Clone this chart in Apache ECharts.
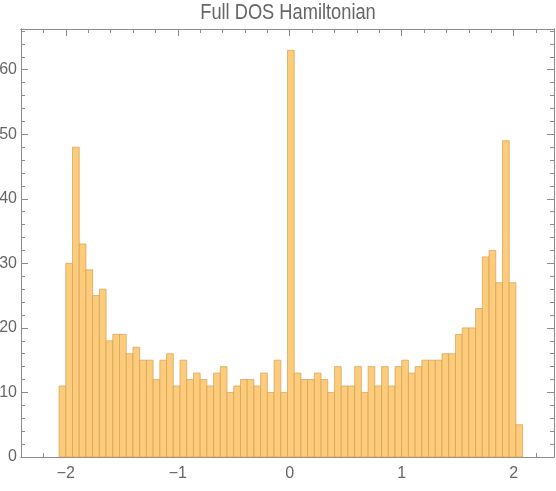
<!DOCTYPE html>
<html>
<head>
<meta charset="utf-8">
<script src="https://cdn.jsdelivr.net/npm/echarts@6/dist/echarts.min.js"></script>
<style>
html,body{margin:0;padding:0;background:#fff;}
#chart{width:556px;height:491px;}
</style>
</head>
<body>
<div id="chart"></div>
<script>
// Histogram bins: first bin left edge and bin width
const binStart = -2.06;
const binWidth = 0.06;
// Counts per bin (69 bins)
const counts = [
  11,30,48,33,29,25,26,18,19,19,16,17,15,15,12,15,16,
  11,
  15,12,13,12,11,13,14,10,11,12,12,11,13,10,15,10,
  63,
  13,12,12,13,12,10,14,11,11,14,10,14,11,14,11,14,15,13,
  14,15,15,15,16,16,19,20,20,23,31,32,27,49,27,5
];
const titleText = 'Full DOS Hamiltonian';
const xMajorTicks = [-2, -1, 0, 1, 2];
const xMinorTicks = [-2.2,-1.8,-1.6,-1.4,-1.2,-0.8,-0.6,-0.4,-0.2,0.2,0.4,0.6,0.8,1.2,1.4,1.6,1.8,2.2];
const yMajorTicks = [0, 10, 20, 30, 40, 50, 60];
const yMinorTicks = [2,4,6,8,12,14,16,18,22,24,26,28,32,34,36,38,42,44,46,48,52,54,56,58,62,64,66];

const FONT = '"Liberation Sans",Arial,sans-serif';
const FRAME = '#8c8c8c';
const TEXT = '#666666';

const barData = counts.map((c, k) => [binStart + k * binWidth, binStart + (k + 1) * binWidth, c]);

function fmt(v) {
  const r = Math.round(v);
  return r < 0 ? '\u2212' + Math.abs(r) : String(r);
}

function xAx(pos, values, len, labels) {
  return {
    type: 'value', position: pos, min: -2.4, max: 2.36,
    axisLine: { show: true, onZero: false, lineStyle: { color: FRAME, width: 1 } },
    axisTick: { show: true, inside: true, length: len, customValues: values, lineStyle: { color: FRAME } },
    axisLabel: labels ? { show: true, customValues: values, formatter: fmt, margin: 9,
      color: TEXT, fontSize: 16, fontFamily: FONT } : { show: false },
    splitLine: { show: false }
  };
}
function yAx(pos, values, len, labels) {
  return {
    type: 'value', position: pos, min: 0, max: 66.3,
    axisLine: { show: true, onZero: false, lineStyle: { color: FRAME, width: 1 } },
    axisTick: { show: true, inside: true, length: len, customValues: values, lineStyle: { color: FRAME } },
    axisLabel: labels ? { show: true, customValues: values, formatter: fmt, margin: 4,
      color: TEXT, fontSize: 16, fontFamily: FONT } : { show: false },
    splitLine: { show: false }
  };
}

const chart = echarts.init(document.getElementById('chart'), null, { renderer: 'canvas' });
chart.setOption({
  animation: false,
  backgroundColor: '#ffffff',
  graphic: [{
    type: 'text', x: 288, y: 2, scaleX: 0.83, scaleY: 1, originX: 0, originY: 0,
    style: { text: titleText, fill: TEXT, fontSize: 22, fontFamily: FONT,
      textAlign: 'center', textVerticalAlign: 'top' }
  }],
  grid: { left: 21, right: 2, top: 29, bottom: 34, outerBoundsMode: 'none', containLabel: false },
  xAxis: [
    xAx('bottom', xMajorTicks, 7, true),
    xAx('bottom', xMinorTicks, 4, false),
    xAx('top', xMajorTicks, 7, false),
    xAx('top', xMinorTicks, 4, false)
  ],
  yAxis: [
    yAx('left', yMajorTicks, 7, true),
    yAx('left', yMinorTicks, 4, false),
    yAx('right', yMajorTicks, 7, false),
    yAx('right', yMinorTicks, 4, false)
  ],
  series: [{
    type: 'custom',
    xAxisIndex: 0, yAxisIndex: 0,
    data: barData,
    encode: { x: [0, 1], y: 2 },
    renderItem: function (params, api) {
      const p0 = api.coord([api.value(0), api.value(2)]);
      const p1 = api.coord([api.value(1), 0]);
      return {
        type: 'rect',
        shape: { x: p0[0], y: p0[1], width: p1[0] - p0[0], height: p1[1] - p0[1] },
        style: { fill: '#fccc7c', stroke: 'rgba(214,160,80,0.7)', lineWidth: 1 }
      };
    }
  }]
});
</script>
</body>
</html>
